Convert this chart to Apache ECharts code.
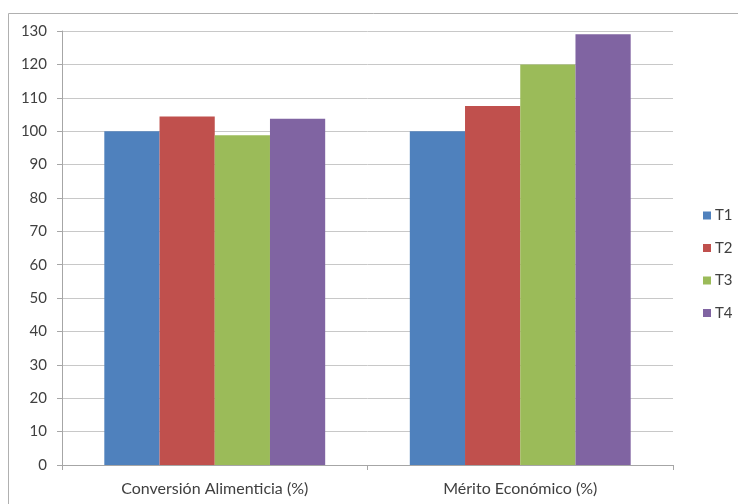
<!DOCTYPE html>
<html><head><meta charset="utf-8">
<script src="https://cdn.jsdelivr.net/npm/echarts@6/dist/echarts.min.js"></script>
<style>html,body{margin:0;padding:0;background:#fff}#c{width:738px;height:504px}</style>
</head><body><div id="c"></div>
<script>
const categories = ['Conversión Alimenticia (%)', 'Mérito Económico (%)'];
const seriesNames = ['T1', 'T2', 'T3', 'T4'];
const T1 = [100, 100];
const T2 = [104.4, 107.5];
const T3 = [98.8, 120];
const T4 = [103.7, 129];
const colors = ['#4F81BD', '#C0504D', '#9BBB59', '#8064A2'];
const values = [T1, T2, T3, T4];
const font = 'Lato, "Open Sans", sans-serif';
const chart = echarts.init(document.getElementById('c'), null, {renderer: 'canvas'});
chart.setOption({
  animation: false,
  backgroundColor: '#fff',
  graphic: [{
    type: 'rect', shape: {x: 8.5, y: 13.5, width: 760, height: 520},
    style: {fill: 'none', stroke: '#b0b0b0', lineWidth: 1}, silent: true
  }],
  grid: {left: 62, right: 65, top: 31, bottom: 39},
  legend: {
    orient: 'vertical', left: 698, top: 203, itemWidth: 8, itemHeight: 8, itemGap: 17.5,
    icon: 'rect',
    textStyle: {fontFamily: font, fontSize: 15, color: '#404040', padding: [0, 0, 0, -1]},
    data: seriesNames
  },
  xAxis: {
    type: 'category', data: categories,
    axisLine: {lineStyle: {color: '#a6a6a6'}},
    axisTick: {show: true, length: 5, lineStyle: {color: '#a6a6a6'}},
    axisLabel: {fontFamily: font, fontSize: 16, color: '#404040', margin: 16}
  },
  yAxis: {
    type: 'value', min: 0, max: 130, interval: 10,
    axisLine: {show: true, lineStyle: {color: '#a6a6a6'}},
    axisTick: {show: true, length: 5, lineStyle: {color: '#a6a6a6'}},
    axisLabel: {fontFamily: font, fontSize: 15, color: '#404040', margin: 15},
    splitLine: {lineStyle: {color: '#c8c8c8'}}
  },
  series: seriesNames.map((n, i) => ({
    name: n, type: 'bar', data: values[i], barGap: '0%', barCategoryGap: '27.7%',
    itemStyle: {color: colors[i]}
  }))
});
</script></body></html>
